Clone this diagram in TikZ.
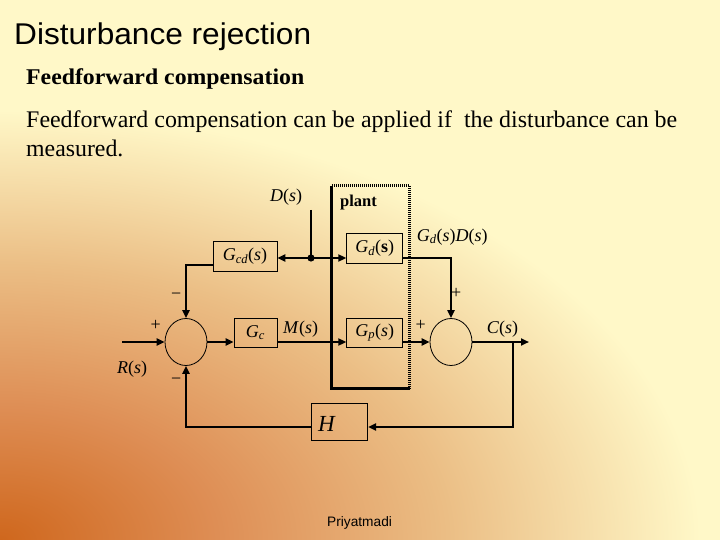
\documentclass[tikz,border=0pt]{standalone}
\usepackage{fontspec}
\usepackage{graphicx}
\setmainfont{Liberation Serif}
\setsansfont{Liberation Sans}
\usetikzlibrary{arrows.meta,shapes.geometric,calc}
\definecolor{bgA}{HTML}{CF671D}
\definecolor{bgB}{HTML}{DE8E55}
\definecolor{bgC}{HTML}{EBBE85}
\definecolor{bgD}{HTML}{FFF8C8}
\definecolor{bgE}{HTML}{FFF8C8}
\pgfdeclareradialshading{bgsh}{\pgfpoint{0bp}{0bp}}{color(0bp)=(bgA); color(7.75bp)=(bgB); color(16bp)=(bgC); color(25bp)=(bgD); color(50bp)=(bgD)}
\newcommand{\lbl}{\fontsize{18}{20}\selectfont}
\tikzset{
  conn/.style={line width=2.8pt, black},
  tip/.style={-{Triangle[length=8pt,width=7pt]}},
  blk/.style={draw, line width=0.8pt, inner sep=0pt, font=\lbl},
  sumj/.style={draw, ellipse, line width=0.8pt, minimum width=42pt, minimum height=47pt, inner sep=0pt},
  txt/.style={anchor=base west, inner sep=0pt, font=\lbl},
}
\begin{document}
\begin{tikzpicture}[x=1pt,y=-1pt]
\useasboundingbox (0,0) rectangle (720,540);
% background
\begin{scope}
\clip (0,0) rectangle (720,540);
\fill[bgE] (0,0) rectangle (720,540);
\shade[shading=bgsh] (0,540) ellipse [x radius=700pt, y radius=430pt];
\end{scope}
% texts
\node[anchor=base west, inner sep=0pt] (title) at (14,44.5)
  {\resizebox{297pt}{\height}{\sffamily\fontsize{30}{34}\selectfont Disturbance rejection}};
\node[anchor=base west, inner sep=0pt] (head) at (26,85)
  {\resizebox{278pt}{\height}{\bfseries\fontsize{22.5}{26}\selectfont Feedforward compensation}};
\node[anchor=base west, inner sep=0pt] (body1) at (26,127.5)
  {\resizebox{651pt}{\height}{\fontsize{23.8}{28}\selectfont Feedforward compensation can be applied if~ the disturbance can be}};
\node[anchor=base west, inner sep=0pt] (body2) at (26,157)
  {\fontsize{23.8}{28}\selectfont measured.};
% plant frame
\node[minimum width=77.5pt, minimum height=202pt, inner sep=0pt] (plant) at (370.75,287) {};
\draw[line width=3pt] (plant.north west) -- (plant.south west) -- (plant.south east);
\draw[line width=3pt, dash pattern=on 1pt off 1pt] (plant.north west) -- (plant.north east) -- (plant.south east);
\node[anchor=base west, inner sep=0pt, font=\bfseries\fontsize{16.5}{18}\selectfont] (plantlbl) at (340,206.7) {plant};
% blocks
\node[sumj] (s1) at (186,342) {};
\node[sumj] (s2) at (451,342) {};
\node[blk, minimum width=43pt, minimum height=29pt] (gc) at (255.5,332.8) {\textit{G}\textsubscript{\textit{c}}};
\node[blk, minimum width=64pt, minimum height=30pt] (gcd) at (245,256) {\textit{G}\textsubscript{\textit{cd}}(\textit{s})};
\node[blk, minimum width=56pt, minimum height=30pt] (gd) at (374.7,248) {\textit{G}\textsubscript{\textit{d}}(\textbf{s})};
\node[blk, minimum width=56pt, minimum height=29pt] (gp) at (374.7,332.5) {\textit{G}\textsubscript{\textit{p}}(\textit{s})};
\node[blk, minimum width=56.7pt, minimum height=37.7pt] (h) at (339.3,421.8) {};
\node[anchor=base west, inner sep=0pt, font=\fontsize{23}{25}\selectfont] (hl) at (318,431.7) {\textit{H}};
% coordinates
\coordinate (rin) at (122,342);
\coordinate (cout) at (529,342);
\coordinate (fb) at (513,342);
\coordinate (dtop) at (311,210);
\coordinate (br) at (311,258);
% connectors
\draw[conn,tip] (rin) -- (s1.west);
\draw[conn,tip] (s1.east) -- (s1.east -| gc.west);
\draw[conn,tip] (s1.east -| gc.east) -- (s1.east -| gp.west);
\draw[conn,tip] (s1.east -| gp.east) -- (s2.west);
\draw[conn,tip] (s2.east) -- (cout);
\draw[conn,tip] (fb) |- ([yshift=-5.2pt]h.east);
\draw[conn,tip] ([yshift=-5.2pt]h.west) -| (s1.south);
\draw[conn] (dtop) -- (br);
\draw[conn,tip] (br) -- (br -| gd.west);
\draw[conn,tip] (br) -- (br -| gcd.east);
\fill (br) circle (3.6pt);
\draw[conn,tip] ([yshift=-9pt]gcd.west) -| (s1.north);
\draw[conn,tip] (br -| gd.east) -| (s2.north);
% labels
\node[txt] (dl) at (270,201.5) {\textit{D}(\textit{s})};
\node[txt] (m1) at (171,299) {−};
\node[txt] (p1) at (150.5,330) {+};
\node[txt] (rl) at (117,373.3) {\textit{R}(\textit{s})};
\node[txt] (m2) at (171,384) {−};
\node[txt] (ml) at (283,333) {\textit{M}(\textit{s})};
\node[txt] (gdd) at (416.7,241) {\textit{G}\textsubscript{\textit{d}}(\textit{s})\textit{D}(\textit{s})};
\node[txt] (p2) at (451,298) {+};
\node[txt] (p3) at (415.5,330) {+};
\node[txt] (cl) at (486.7,333.3) {\textit{C}(\textit{s})};
\node[anchor=base west, inner sep=0pt, font=\sffamily\fontsize{13.7}{15}\selectfont] (au) at (327,526) {Priyatmadi};
\end{tikzpicture}
\end{document}
